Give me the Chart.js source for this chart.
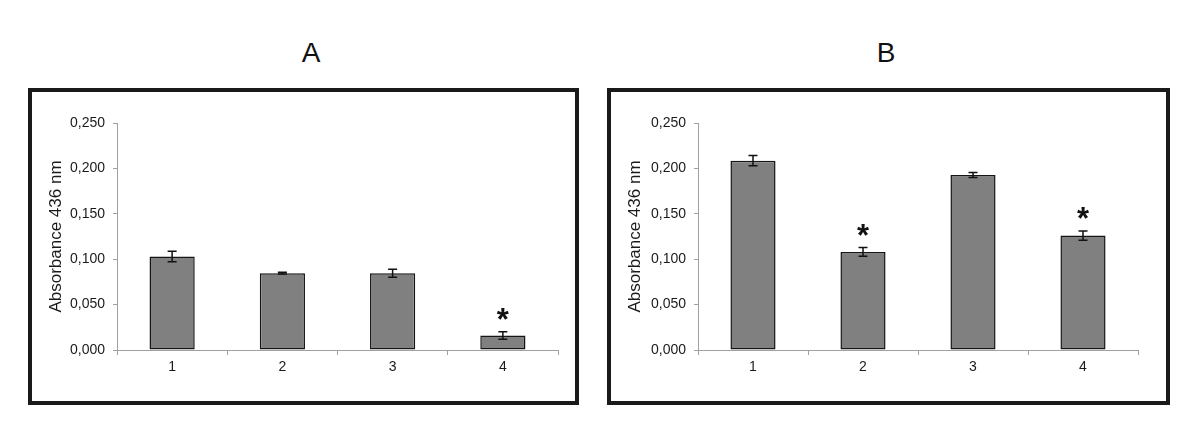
<!DOCTYPE html>
<html>
<head>
<meta charset="utf-8">
<script src="https://cdn.jsdelivr.net/npm/chart.js@4/dist/chart.umd.min.js"></script>
<style>
body { margin: 0; background: #fff; width: 1200px; height: 443px; position: relative; overflow: hidden;
       font-family: "Liberation Sans", Arial, sans-serif; }
.title { position: absolute; top: 34px; width: 60px; font-size: 28px; line-height: 38px; text-align: center; color: #111; }
.frame { position: absolute; top: 88px; height: 317px; border: 4px solid #1a1a1a; box-sizing: border-box; }
.frame canvas { position: absolute; left: 0; top: 0; }
</style>
</head>
<body>
<div class="title" style="left:281px">A</div>
<div class="title" style="left:856px">B</div>
<div class="frame" style="left:28px;width:551px"><canvas id="chartA" width="543" height="309"></canvas></div>
<div class="frame" style="left:607px;width:563px"><canvas id="chartB" width="555" height="309"></canvas></div>
<script>
var categories = ["1", "2", "3", "4"];

var valuesA = [0.103, 0.0846, 0.0846, 0.0160];
var errorsA = [0.0057, 0.0010, 0.0044, 0.0042];
var starsA  = [false, false, false, true];

var valuesB = [0.2085, 0.108, 0.1927, 0.126];
var errorsB = [0.0056, 0.0048, 0.0027, 0.0051];
var starsB  = [false, true, false, true];

var yTicks = [0, 0.05, 0.1, 0.15, 0.2, 0.25];

// error bars and significance stars, drawn on top of the bars
var errorBarPlugin = {
    id: "errorBars",
    afterDatasetsDraw: function(chart) {
        var ctx = chart.ctx;
        var yScale = chart.scales.y;
        var meta = chart.getDatasetMeta(0);
        var opts = chart.options.plugins.errorBars;
        ctx.save();
        ctx.strokeStyle = "#111";
        ctx.lineWidth = 1.5;
        for (var i = 0; i < opts.values.length; i++) {
            var x = meta.data[i].x;
            var top = yScale.getPixelForValue(opts.values[i] + opts.errors[i]);
            var bot = yScale.getPixelForValue(opts.values[i] - opts.errors[i]);
            ctx.beginPath();
            ctx.moveTo(x, top); ctx.lineTo(x, bot);
            ctx.moveTo(x - 4.5, top); ctx.lineTo(x + 4.5, top);
            ctx.moveTo(x - 4.5, bot); ctx.lineTo(x + 4.5, bot);
            ctx.stroke();
            if (opts.stars[i]) {
                ctx.fillStyle = "#111";
                ctx.font = "bold 31px 'Liberation Sans', Arial, sans-serif";
                ctx.textAlign = "center";
                ctx.textBaseline = "alphabetic";
                ctx.fillText("*", x, top - 2);
            }
        }
        ctx.restore();
    }
};

function buildChart(canvasID, values, errors, stars, yWidth, padRight) {
    var canvas = document.getElementById(canvasID);
    return new Chart(canvas, {
        type: "bar",
        data: {
            labels: categories,
            datasets: [{
                data: values,
                backgroundColor: "#808080",
                borderColor: "#151515",
                borderWidth: 1.5,
                borderSkipped: false,
                barPercentage: 0.41,
                categoryPercentage: 1
            }]
        },
        options: {
            responsive: false,
            animation: false,
            layout: { padding: { top: 31, right: padRight, left: 0, bottom: 0 } },
            plugins: {
                legend: { display: false },
                tooltip: { enabled: false },
                errorBars: { values: values, errors: errors, stars: stars }
            },
            scales: {
                x: {
                    grid: { display: true, offset: true, drawOnChartArea: false, drawTicks: true, tickLength: 5, color: "#a0a0a0" },
                    border: { color: "#a0a0a0", width: 1 },
                    ticks: { color: "#1a1a1a", padding: 4, font: { family: "'Liberation Sans', Arial, sans-serif", size: 14 } },
                    afterFit: function(scale) { scale.height = 51; }
                },
                y: {
                    min: 0,
                    max: 0.25,
                    afterBuildTicks: function(scale) {
                        scale.ticks = yTicks.map(function(v) { return { value: v }; });
                    },
                    grid: { drawOnChartArea: false, drawTicks: true, tickLength: 4, color: "#a0a0a0" },
                    border: { color: "#a0a0a0", width: 1 },
                    ticks: {
                        color: "#1a1a1a",
                        padding: 8,
                        font: { family: "'Liberation Sans', Arial, sans-serif", size: 14 },
                        callback: function(v) { return Number(v).toFixed(3).replace(".", ","); }
                    },
                    title: {
                        display: true,
                        text: "Absorbance 436 nm",
                        color: "#1a1a1a",
                        padding: { top: 14, bottom: 0 },
                        font: { family: "'Liberation Sans', Arial, sans-serif", size: 17 }
                    },
                    afterFit: function(scale) { scale.width = yWidth; }
                }
            }
        },
        plugins: [errorBarPlugin]
    });
}

buildChart("chartA", valuesA, errorsA, starsA, 85, 17);
buildChart("chartB", valuesB, errorsB, starsB, 87, 28);
</script>
</body>
</html>
